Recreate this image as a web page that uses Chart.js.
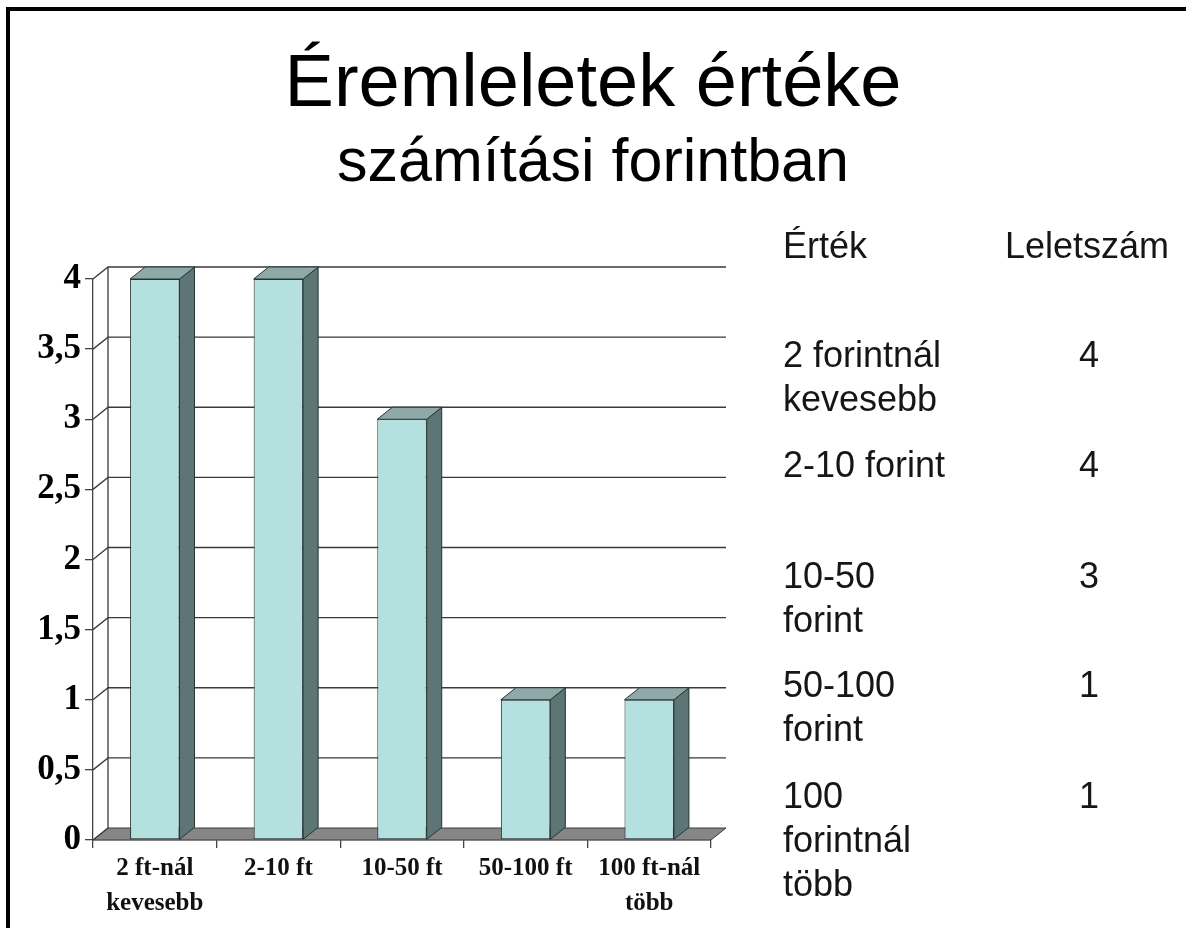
<!DOCTYPE html>
<html>
<head>
<meta charset="utf-8">
<script src="https://cdn.jsdelivr.net/npm/chart.js@4.4.0/dist/chart.umd.min.js"></script>
<style>
    html, body { margin: 0; padding: 0; background: #fff; }
    #wrap { position: relative; width: 1186px; height: 928px; overflow: hidden; }
    #frame { position: absolute; left: 6px; top: 7px; right: -10px; bottom: -10px;
             border-left: 4px solid #000; border-top: 4px solid #000; pointer-events: none; }
</style>
</head>
<body>
<div id="wrap">
    <canvas id="eremChart" width="1186" height="928"></canvas>
    <div id="frame"></div>
</div>
<script>
// adatok
var kategoriak = [['2 ft-nál', 'kevesebb'], '2-10 ft', '10-50 ft', '50-100 ft', ['100 ft-nál', 'több']];
var leletszam = [4, 4, 3, 1, 1];
var ertekek = [['2 forintnál', 'kevesebb'], ['2-10 forint'], ['10-50', 'forint'], ['50-100', 'forint'], ['100', 'forintnál', 'több']];
var yTicks = [0, 0.5, 1, 1.5, 2, 2.5, 3, 3.5, 4];

var DX = 15, DY = 12; // 3D melyseg

var harom_d = {
    id: 'harom_d',
    beforeDatasetsDraw: function (chart) {
        var ctx = chart.ctx, a = chart.chartArea, y = chart.scales.y;
        var y0 = y.getPixelForValue(0);
        var yTop = y.getPixelForValue(yTicks[yTicks.length - 1]);
        ctx.save();
        // padlo
        ctx.fillStyle = '#868686';
        ctx.strokeStyle = '#3c3c3c';
        ctx.lineWidth = 1;
        ctx.beginPath();
        ctx.moveTo(a.left, y0);
        ctx.lineTo(a.right, y0);
        ctx.lineTo(a.right + DX, y0 - DY);
        ctx.lineTo(a.left + DX, y0 - DY);
        ctx.closePath();
        ctx.fill();
        ctx.stroke();
        // hatso fal racsvonalai
        ctx.strokeStyle = '#3a3a3a';
        ctx.lineWidth = 1.3;
        yTicks.forEach(function (v) {
            var yf = y.getPixelForValue(v), yb = yf - DY;
            ctx.beginPath();
            ctx.moveTo(a.left, yf);
            ctx.lineTo(a.left + DX, yb);
            if (v > 0) ctx.lineTo(a.right + DX, yb);
            ctx.stroke();
        });
        ctx.beginPath();
        ctx.moveTo(a.left + DX, yTop - DY);
        ctx.lineTo(a.left + DX, y0 - DY);
        ctx.stroke();
        ctx.restore();
    },
    afterDatasetsDraw: function (chart) {
        var ctx = chart.ctx;
        ctx.save();
        ctx.strokeStyle = '#263434';
        ctx.lineWidth = 1;
        chart.getDatasetMeta(0).data.forEach(function (bar) {
            var p = bar.getProps(['x', 'y', 'base', 'width'], true);
            var l = p.x - p.width / 2, r = p.x + p.width / 2;
            // oldal
            ctx.fillStyle = '#5d7575';
            ctx.beginPath();
            ctx.moveTo(r, p.y);
            ctx.lineTo(r + DX, p.y - DY);
            ctx.lineTo(r + DX, p.base - DY);
            ctx.lineTo(r, p.base);
            ctx.closePath();
            ctx.fill();
            ctx.stroke();
            // teteje
            ctx.fillStyle = '#8fa9a9';
            ctx.beginPath();
            ctx.moveTo(l, p.y);
            ctx.lineTo(l + DX, p.y - DY);
            ctx.lineTo(r + DX, p.y - DY);
            ctx.lineTo(r, p.y);
            ctx.closePath();
            ctx.fill();
            ctx.stroke();
        });
        ctx.restore();
    }
};

var tablazat = {
    id: 'tablazat',
    afterDraw: function (chart) {
        var ctx = chart.ctx;
        ctx.save();
        ctx.font = '36px "Liberation Sans", Arial, sans-serif';
        ctx.fillStyle = '#161616';
        ctx.textBaseline = 'alphabetic';
        ctx.textAlign = 'left';
        ctx.fillText('Érték', 783, 258);
        ctx.fillText('Leletszám', 1005, 258);
        var sorY = [367, 477, 588, 697, 808];
        ertekek.forEach(function (sorok, i) {
            ctx.textAlign = 'left';
            sorok.forEach(function (t, j) {
                ctx.fillText(t, 783, sorY[i] + j * 44);
            });
            ctx.textAlign = 'center';
            ctx.fillText(String(leletszam[i]), 1089, sorY[i]);
        });
        ctx.restore();
    }
};

var ctx1 = document.getElementById('eremChart').getContext('2d');
var eremChart = new Chart(ctx1, {
    type: 'bar',
    data: {
        labels: kategoriak,
        datasets: [{
            label: 'Leletszám',
            data: leletszam,
            backgroundColor: '#b4e0e0',
            borderColor: '#263434',
            borderWidth: 1,
            borderSkipped: false,
            barPercentage: 0.4,
            categoryPercentage: 1,
            clip: false
        }]
    },
    options: {
        responsive: false,
        animation: false,
        layout: { padding: 0 },
        plugins: {
            legend: { display: false },
            tooltip: { enabled: false },
            title: {
                display: true,
                text: 'Éremleletek értéke',
                color: '#000',
                font: { family: '"Liberation Sans", Arial, sans-serif', size: 74, weight: 'normal', lineHeight: 1.1 },
                padding: { top: 45, bottom: 0 }
            },
            subtitle: {
                display: true,
                text: 'számítási forintban',
                color: '#000',
                font: { family: '"Liberation Sans", Arial, sans-serif', size: 61, weight: 'normal', lineHeight: 1.2 },
                padding: { top: 1, bottom: 78.4 }
            }
        },
        scales: {
            x: {
                grid: { drawOnChartArea: false, drawTicks: true, tickLength: 8, color: '#444', lineWidth: 1.3 },
                border: { display: true, color: '#444', width: 1.3 },
                ticks: {
                    color: '#111',
                    padding: 3,
                    maxRotation: 0,
                    font: { family: '"Liberation Serif", "Times New Roman", serif', size: 25, weight: 'bold', lineHeight: 1.4 }
                },
                afterFit: function (s) { s.height = 88; }
            },
            y: {
                min: 0,
                max: 4,
                afterBuildTicks: function (s) { s.ticks = yTicks.map(function (v) { return { value: v }; }); },
                grid: { drawOnChartArea: false, drawTicks: true, tickLength: 8, color: '#444', lineWidth: 1.3 },
                border: { display: true, color: '#444', width: 1.3 },
                ticks: {
                    color: '#000',
                    padding: 4,
                    font: { family: '"Liberation Serif", "Times New Roman", serif', size: 35, weight: 'bold' },
                    callback: function (value) { return String(value).replace('.', ','); }
                },
                afterFit: function (s) { s.width = 93; }
            },
            jobb: {
                axis: 'y',
                position: 'right',
                display: true,
                grid: { display: false },
                border: { display: false },
                ticks: { display: false },
                afterFit: function (s) { s.width = 475; }
            }
        }
    },
    plugins: [harom_d, tablazat]
});
</script>
</body>
</html>
